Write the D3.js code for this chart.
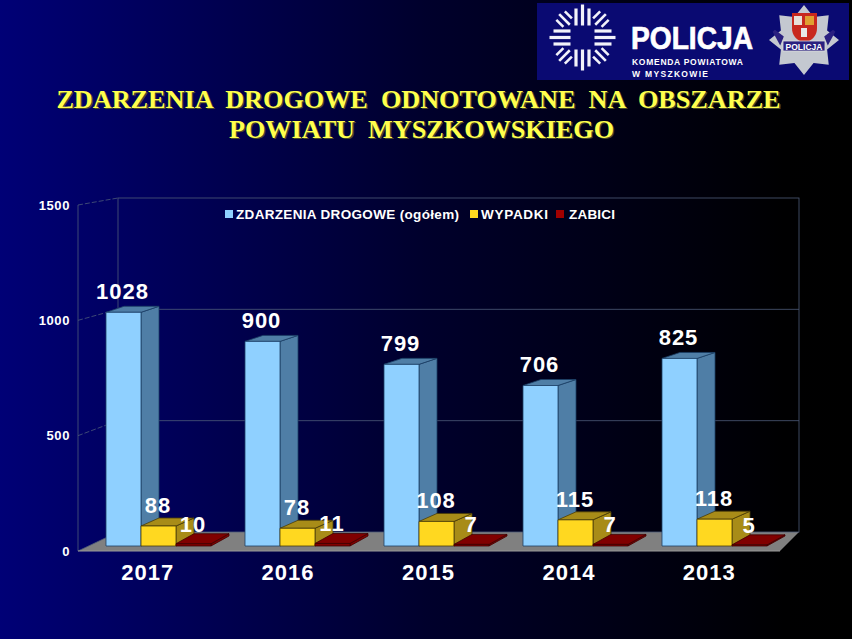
<!DOCTYPE html>
<html><head><meta charset="utf-8">
<script src="https://cdnjs.cloudflare.com/ajax/libs/d3/7.8.5/d3.min.js"></script>
<style>html,body{margin:0;padding:0;background:#000}svg{display:block}</style>
</head><body><svg id="c" width="852" height="639"></svg>
<script>
const years = ["2017","2016","2015","2014","2013"];
const zdarzenia = [1028,900,799,706,825];
const wypadki = [88,78,108,115,118];
const zabici = [10,11,7,7,5];
const yTicks = [0,500,1000,1500];
const seriesNames = ["ZDARZENIA DROGOWE (ogółem)","WYPADKI","ZABICI"];
const titleLines = ["ZDARZENIA  DROGOWE  ODNOTOWANE  NA  OBSZARZE","POWIATU  MYSZKOWSKIEGO"];

const svg = d3.select("#c");
const defs = svg.append("defs");
const bg = defs.append("linearGradient").attr("id","bg").attr("x1",0).attr("x2",1).attr("y1",0).attr("y2",0);
bg.append("stop").attr("offset",0).attr("stop-color","#000076");
bg.append("stop").attr("offset",0.5).attr("stop-color","#00002c");
bg.append("stop").attr("offset",0.92).attr("stop-color","#000001");
bg.append("stop").attr("offset",1).attr("stop-color","#000000");
svg.append("rect").attr("width",852).attr("height",639).attr("fill","url(#bg)");

// Logo banner
const logo = svg.append("g");
logo.append("rect").attr("x",537).attr("y",3).attr("width",312).attr("height",77).attr("fill","#0a0a72");
const cx=582.5,cy=37.5,white="#f2f2fa";
const ray=(ang,off,r1,r2,w)=>{
  const a=ang*Math.PI/180,ux=Math.cos(a),uy=Math.sin(a);
  logo.append("line").attr("x1",cx+ux*r1-uy*off).attr("y1",cy+uy*r1+ux*off)
    .attr("x2",cx+ux*r2-uy*off).attr("y2",cy+uy*r2+ux*off)
    .attr("stroke",white).attr("stroke-width",w);
};
[0,90,180,270].forEach(a=>{
  ray(a,0,12,33,3.2); ray(a,-6.5,12,29,3.2); ray(a,6.5,12,29,3.2);
});
[45,135,225,315].forEach(a=>{
  ray(a,0,18,33,2.6); ray(a,-6,21,31,2.6); ray(a,6,21,31,2.6);
});
logo.append("text").attr("x",631).attr("y",49).attr("font-family","Liberation Sans").attr("font-weight","bold")
  .attr("font-size",31).attr("fill","#fff").attr("stroke","#fff").attr("stroke-width",0.7)
  .attr("textLength",122).attr("lengthAdjust","spacingAndGlyphs").text("POLICJA");
logo.append("text").attr("x",632).attr("y",65).attr("font-family","Liberation Sans").attr("font-weight","bold")
  .attr("font-size",8.5).attr("fill","#fff").attr("textLength",111).text("KOMENDA  POWIATOWA");
logo.append("text").attr("x",632).attr("y",77).attr("font-family","Liberation Sans").attr("font-weight","bold")
  .attr("font-size",8.5).attr("fill","#fff").attr("textLength",76).text("W  MYSZKOWIE");
// badge
const bx=804,by=40;
const starPts=d3.range(16).map(i=>{const a=i*Math.PI/8-Math.PI/2;const r=i%2?25:35;return [bx+r*Math.cos(a),by+r*Math.sin(a)];});
logo.append("polygon").attr("points",starPts.join(" ")).attr("fill","#c4c8d0");
logo.append("path").attr("d",`M${bx-22},${by-3}L${bx-30},${by-9}L${bx-24},${by+2}z M${bx+22},${by-3}L${bx+30},${by-9}L${bx+24},${by+2}z`).attr("fill","#2a2080").attr("stroke","#2a2080").attr("stroke-width",3);
logo.append("path").attr("d",`M${bx-12},${by-27}h25v15q0,11,-12.5,15q-12.5,-4,-12.5,-15z`).attr("fill","#c8281e");
logo.append("rect").attr("x",bx+1).attr("y",by-24).attr("width",9).attr("height",9).attr("fill","#e0a030");
logo.append("rect").attr("x",bx-10).attr("y",by-24).attr("width",8).attr("height",9).attr("fill","#e8e0d8");
logo.append("rect").attr("x",bx-3).attr("y",by-12).attr("width",6).attr("height",9).attr("fill","#e8e8e8");
logo.append("rect").attr("x",bx-21).attr("y",by+1).attr("width",42).attr("height",10).attr("fill","#2a2080").attr("stroke","#ddd").attr("stroke-width",0.8);
logo.append("text").attr("x",bx).attr("y",by+9.5).attr("text-anchor","middle").attr("font-family","Liberation Sans")
  .attr("font-weight","bold").attr("font-size",8.5).attr("fill","#fff").text("POLICJA");

// Title
titleLines.forEach((t,i)=>{
  const y=[107.5,137.5][i], x=[418.5,421.5][i];
  [["#4a4a28",1.3],["#ffff4d",0]].forEach(([c,o])=>{
    svg.append("text").attr("x",x+o).attr("y",y+o).attr("text-anchor","middle")
      .attr("font-family","Liberation Serif").attr("font-weight","bold").attr("font-size",26.2)
      .attr("fill",c).attr("xml:space","preserve").style("white-space","pre").text(t);
  });
});

// Scales
const yFront = d3.scaleLinear().domain([0,1500]).range([551,205]);
const yBack = d3.scaleLinear().domain([0,1500]).range([532,198]);
const yBar = d3.scaleLinear().domain([0,1500]).range([546,205]);
const xBack = [118,799], xFront=[78,780];
const xLabel = d3.scaleBand().domain(years).range(xFront);
const xGroup = d3.scaleBand().domain(years).range([88.5,783.5]);
const xSeries = d3.scaleBand().domain(seriesNames).range([17.5,122.5]);

// Walls and floor
const lineCol="#4d5a78";
svg.append("polygon").attr("points",[[xFront[0],551],[xBack[0],532],[xBack[1],532],[xFront[1],551]].join(" ")).attr("fill","#808080");
svg.append("rect").attr("x",xBack[0]).attr("y",yBack(1500)).attr("width",xBack[1]-xBack[0]).attr("height",yBack(0)-yBack(1500))
  .attr("fill","none").attr("stroke",lineCol).attr("stroke-width",0.8);
svg.append("line").attr("x1",xFront[0]).attr("x2",xFront[0]).attr("y1",yFront(1500)).attr("y2",yFront(0)).attr("stroke",lineCol).attr("stroke-width",0.8);
yTicks.forEach(t=>{
  if(t>0 && t<1500) svg.append("line").attr("x1",xBack[0]).attr("x2",xBack[1]).attr("y1",yBack(t)).attr("y2",yBack(t)).attr("stroke",lineCol).attr("stroke-width",0.8);
  svg.append("line").attr("x1",xFront[0]).attr("x2",xBack[0]).attr("y1",yFront(t)).attr("y2",yBack(t)).attr("stroke",lineCol).attr("stroke-width",0.8).attr("stroke-dasharray",t===0?null:"5,2");
  svg.append("text").attr("x",70).attr("y",yFront(t)+4.5).attr("text-anchor","end")
    .attr("font-family","Liberation Sans").attr("font-weight","bold").attr("font-size",13).attr("letter-spacing",0.6).attr("fill","#fff").text(d3.format("d")(t));
});
svg.append("line").attr("x1",xFront[0]).attr("x2",xFront[1]).attr("y1",551).attr("y2",551).attr("stroke","#999");

// Bars
const series = [
 {name:seriesNames[0],vals:zdarzenia,front:"#8fd0ff",side:"#4f7ea6",top:"#4f7ea6",stroke:"#1c3f66",dy:6,lab:13.5,shift:-1},
 {name:seriesNames[1],vals:wypadki,front:"#ffd820",side:"#a88c18",top:"#a88c18",stroke:"#4a3c08",dy:8,lab:13,shift:-0.5},
 {name:seriesNames[2],vals:zabici,front:"#800000",side:"#800000",top:"#800000",stroke:"#400000",dy:10,lab:12,shift:-0.5}
];
const dx=18;
years.forEach((yr,i)=>{
  series.forEach(s=>{
    const x0=xGroup(yr)+xSeries(s.name), w=xSeries.bandwidth(), x1=x0+w;
    const yT=yBar(s.vals[i]), yB=yBar(0), d=s.dy;
    const g=svg.append("g").attr("stroke",s.stroke).attr("stroke-width",0.8).attr("stroke-linejoin","round");
    g.append("polygon").attr("points",[[x1,yT],[x1+dx,yT-d],[x1+dx,yB-d],[x1,yB]].join(" ")).attr("fill",s.side);
    g.append("polygon").attr("points",[[x0,yT],[x0+dx,yT-d],[x1+dx,yT-d],[x1,yT]].join(" ")).attr("fill",s.top);
    g.append("rect").attr("x",x0).attr("y",yT).attr("width",w).attr("height",yB-yT).attr("fill",s.front);
  });
  series.forEach(s=>{
    const x0=xGroup(yr)+xSeries(s.name), w=xSeries.bandwidth();
    svg.append("text").attr("x",x0+w/2+s.shift).attr("y",yBar(s.vals[i])-s.lab)
      .attr("text-anchor","middle").attr("font-family","Liberation Sans").attr("font-weight","bold")
      .attr("font-size",22).attr("letter-spacing",1).attr("fill","#fff").text(s.vals[i]);
  });
  svg.append("text").attr("x",xLabel(yr)+xLabel.bandwidth()/2-0.5).attr("y",580).attr("text-anchor","middle")
    .attr("font-family","Liberation Sans").attr("font-weight","bold").attr("font-size",22).attr("letter-spacing",1).attr("fill","#fff").text(yr);
});

// Legend
const legendX=[225,470,556];
const legendTextX=[236,481,569];
const legendW=[223,67,46];
series.forEach((s,i)=>{
  svg.append("rect").attr("x",legendX[i]).attr("y",210).attr("width",8).attr("height",8).attr("fill",i===2?"#a00000":s.front);
  svg.append("text").attr("x",legendTextX[i]).attr("y",219).attr("font-family","Liberation Sans").attr("font-weight","bold")
    .attr("font-size",13.5).attr("fill","#fff").attr("textLength",legendW[i]).text(s.name);
});
</script></body></html>
